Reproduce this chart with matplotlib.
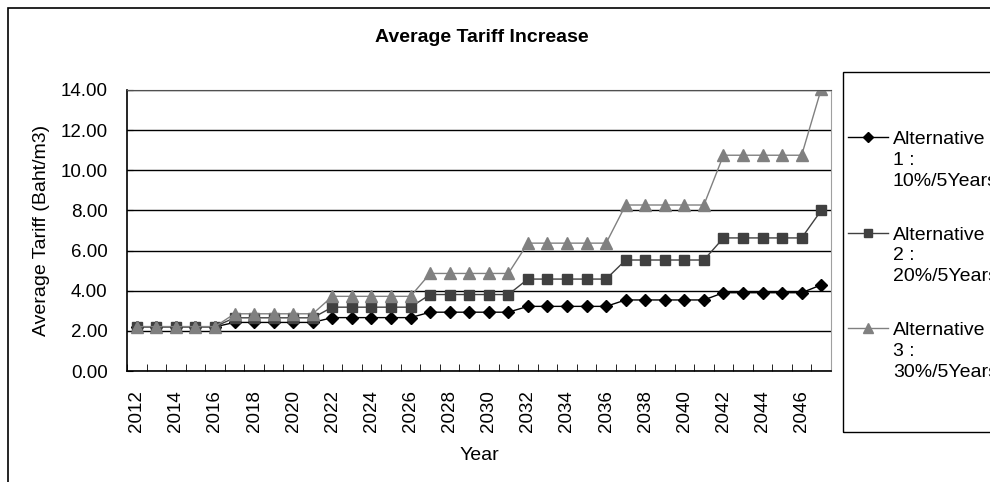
import matplotlib
matplotlib.use("Agg")
import matplotlib.pyplot as plt
from matplotlib.patches import Rectangle
from matplotlib.lines import Line2D

plt.rcParams['font.family'] = ['Liberation Sans', 'DejaVu Sans']

# data
years = list(range(2012, 2048))
alt1_steps = [2.20, 2.42, 2.66, 2.93, 3.22, 3.54, 3.90]
alt2_steps = [2.21, 2.65, 3.18, 3.81, 4.58, 5.53, 6.63]
alt3_steps = [2.21, 2.85, 3.72, 4.86, 6.37, 8.27, 10.75]
alt1_last = 4.29
alt2_last = 8.00
alt3_last = 14.05

alt1 = [v for v in alt1_steps for _ in range(5)] + [alt1_last]
alt2 = [v for v in alt2_steps for _ in range(5)] + [alt2_last]
alt3 = [v for v in alt3_steps for _ in range(5)] + [alt3_last]

labels = ["Alternative\n1 :\n10%/5Years",
          "Alternative\n2 :\n20%/5Years",
          "Alternative\n3 :\n30%/5Years"]

W, H = 990, 482
fig = plt.figure(figsize=(W / 100, H / 100), dpi=100)
ax = fig.add_axes([127 / W, 1 - 371 / H, 704 / W, 281 / H])

def fx(px):
    return px / W

def fy(py):
    return 1 - py / H

# outer chart border
fig.patches.append(Rectangle((fx(8), -0.1), 2, 1.1 - 8 / H, transform=fig.transFigure,
                             fill=False, edgecolor='black', linewidth=1.2))

styles = [dict(color='black', marker='D', markersize=6),
          dict(color='#404040', marker='s', markersize=6.5),
          dict(color='#808080', marker='^', markersize=8)]

x = list(range(len(years)))
for vals, st in zip([alt1, alt2, alt3], styles):
    ax.plot(x, vals, linewidth=1, **st)

ax.set_xlim(-0.5, len(years) - 0.5)
ax.set_ylim(0, 14)
ax.set_yticks(range(0, 15, 2))
ax.set_yticklabels([f"{v:.2f}" for v in range(0, 15, 2)], fontsize=13.5)
ax.yaxis.grid(True, color='black', linewidth=1)
ax.tick_params(axis='y', direction='in', length=4, pad=14)

ax.set_xticks(x[::2])
ax.set_xticklabels([str(y) for y in years[::2]], rotation=90, fontsize=13.5)
ax.set_xticks([i - 0.5 for i in range(len(years) + 1)], minor=True)
ax.tick_params(axis='x', which='major', length=0, pad=14)
ax.tick_params(axis='x', which='minor', direction='in', length=5)

for s in ['left', 'bottom']:
    ax.spines[s].set_color('black')
    ax.spines[s].set_linewidth(1.2)
ax.spines['top'].set_color('#505050')
ax.spines['right'].set_color('#a0a0a0')

fig.text(fx(42), fy(230), "Average Tariff (Baht/m3)", fontsize=14,
         rotation=90, ha='center', va='center')
fig.text(fx(479), fy(455), "Year", fontsize=14, ha='center', va='center')
fig.text(fx(482), fy(37), "Average Tariff Increase", fontsize=14,
         fontweight='bold', ha='center', va='center')

# legend box (runs off the right edge as in the original)
fig.patches.append(Rectangle((fx(843), fy(432)), 1, (432 - 72) / H,
                             transform=fig.transFigure, fill=False,
                             edgecolor='black', linewidth=1))
for i, (lab, st) in enumerate(zip(labels, styles)):
    yy = fy(137 + i * 95.5)
    fig.add_artist(Line2D([fx(848), fx(888)], [yy, yy], color=st['color'],
                          linewidth=1, transform=fig.transFigure))
    fig.add_artist(Line2D([fx(868)], [yy], transform=fig.transFigure,
                          linestyle='none', color=st['color'], marker=st['marker'],
                          markersize=st['markersize'] - 1))
    fig.text(fx(893), fy(131 + i * 95.5), lab, fontsize=14, ha='left', va='top',
             linespacing=1.3)

fig.savefig("out.png", dpi=100)
